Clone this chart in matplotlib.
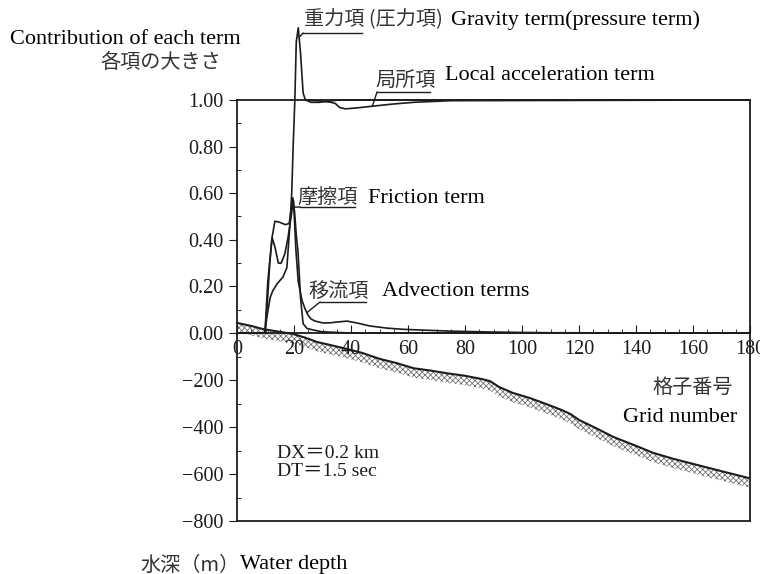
import numpy as np
import matplotlib
matplotlib.use('Agg')
import matplotlib.pyplot as plt
from matplotlib.lines import Line2D
from matplotlib.ticker import MultipleLocator

plt.rcParams['font.family'] = ['Liberation Serif', 'Noto Sans CJK JP']
plt.rcParams['hatch.linewidth'] = 0.55

# contribution of each term (normalised), by grid number
gravity_x = [0, 9.8, 10.5, 11.6, 12.5, 14, 16.1, 17.5, 17.9, 18.6, 19.2, 19.7, 20.3, 20.8, 21.5, 22.3, 23.2, 24, 26, 29, 32, 36, 45, 180]
gravity_y = [0, 0, 0.07, 0.15, 0.18, 0.21, 0.24, 0.28, 0.35, 0.47, 0.60, 0.80, 1.00, 1.25, 1.31, 1.20, 1.03, 1.0, 0.99, 0.99, 0.995, 1.0, 1.0, 1.0]

local_x = [24, 30, 33, 34.5, 36, 38, 42, 48, 55, 62, 75, 180]
local_y = [1.0, 0.995, 0.99, 0.985, 0.968, 0.962, 0.966, 0.974, 0.983, 0.99, 0.997, 1.0]

friction_x = [0, 9.8, 10.6, 11.5, 12.3, 13.3, 15, 17, 18.3, 19.0, 19.6, 20.2, 20.8, 21.4, 22.3, 23.2, 24.5, 26.7, 30, 40, 180]
friction_y = [0, 0, 0.12, 0.30, 0.41, 0.48, 0.475, 0.465, 0.47, 0.53, 0.58, 0.52, 0.42, 0.35, 0.15, 0.04, 0.02, 0.013, 0.005, 0, 0]

advection_x = [0, 9.8, 10.8, 12.3, 13.3, 14.5, 15.5, 16.8, 17.9, 19.0, 19.8, 20.3, 20.7, 21.5, 22.8, 24.0, 24.9, 26, 27.4, 30.2, 33, 35, 38.6, 42.1, 46.7, 52.6, 58, 64, 75, 90, 110, 180]
advection_y = [0, 0, 0.22, 0.41, 0.37, 0.30, 0.30, 0.34, 0.41, 0.50, 0.57, 0.45, 0.35, 0.22, 0.14, 0.10, 0.077, 0.06, 0.051, 0.043, 0.044, 0.047, 0.051, 0.043, 0.03, 0.021, 0.016, 0.013, 0.008, 0.004, 0.001, 0]

# sea bottom profile (m)
depth_x = [0, 5, 9, 15, 19.6, 24, 28, 33, 38.6, 44, 50, 56, 62, 68, 74, 80, 86.3, 88.8, 92, 96.8, 102.8, 108, 114, 117, 120, 126, 132, 141, 146, 153, 161, 170, 179.5]
depth_m = [43, 30, 17, 5, -4, -20, -38, -52, -68, -85, -110, -128, -150, -160, -172, -182, -197, -205, -230, -255, -277, -300, -328, -345, -370, -405, -442, -485, -510, -535, -560, -588, -617]

y_ticks = [0, 0.2, 0.4, 0.6, 0.8, 1.0]
depth_ticks = [-800, -600, -400, -200]
x_ticks = list(range(0, 181, 20))

INK = '#1c1c1c'
W, H = 760, 574
fig = plt.figure(figsize=(W / 100, H / 100), dpi=100)


def fx(px):
    return px / W


def fy(py):
    return 1 - py / H


ax_bot = fig.add_axes([fx(237), fy(521), (750 - 237) / W, (521 - 333) / H])
ax_top = fig.add_axes([fx(237), fy(333), (750 - 237) / W, (333 - 100) / H])
for ax in (ax_bot, ax_top):
    ax.patch.set_visible(False)
    ax.set_xlim(0, 180)
    for s in ax.spines.values():
        s.set_linewidth(1.3)
        s.set_color(INK)

# upper panel: terms
ax_top.set_ylim(0, 1)
for xs, ys in [(gravity_x, gravity_y), (local_x, local_y), (friction_x, friction_y), (advection_x, advection_y)]:
    ax_top.plot(xs, ys, color=INK, lw=1.2, clip_on=False)

ax_top.set_xticks(x_ticks)
ax_top.xaxis.set_minor_locator(MultipleLocator(5))
ax_top.tick_params(axis='x', which='both', direction='in', bottom=True, top=False, labelsize=14.5, pad=5, colors=INK)
ax_top.tick_params(axis='x', which='major', length=6)
ax_top.tick_params(axis='x', which='minor', length=3)
ax_top.set_yticks(y_ticks)
ax_top.set_yticklabels(['%.2f' % v for v in y_ticks])
ax_top.yaxis.set_minor_locator(MultipleLocator(0.1))
ax_top.tick_params(axis='y', which='major', direction='out', length=6, labelsize=14.5, pad=4, colors=INK)
ax_top.tick_params(axis='y', which='minor', direction='in', length=3)

# lower panel: depth
ax_bot.set_ylim(-800, 0)
ax_bot.spines['top'].set_visible(False)
band = np.array(depth_m) - 40
ax_bot.fill_between(depth_x, depth_m, band, facecolor='white', edgecolor='#6a6a6a', hatch='xxxxxx', linewidth=0, clip_on=False)
ax_bot.plot(depth_x, depth_m, color=INK, lw=1.5, clip_on=False)
ax_bot.set_xticks([])
ax_bot.set_yticks(depth_ticks)
ax_bot.set_yticklabels(['\u2212%d' % abs(v) for v in depth_ticks])
ax_bot.yaxis.set_minor_locator(MultipleLocator(100))
ax_bot.tick_params(axis='y', which='major', direction='out', length=6, labelsize=14.5, pad=4, colors=INK)
ax_bot.tick_params(axis='y', which='minor', direction='in', length=3)


def leader(xs, ys, xd, x1, x2, ypx):
    yd = np.interp(xd, xs, ys)
    ax_top.annotate('', xy=(xd, yd), xycoords='data', xytext=(x1, H - ypx), textcoords='figure pixels',
                    annotation_clip=False,
                    arrowprops=dict(arrowstyle='-', color=INK, lw=1.0, shrinkA=0, shrinkB=0))
    fig.add_artist(Line2D([fx(x1), fx(x2)], [fy(ypx), fy(ypx)], color=INK, lw=1.0))


leader(gravity_x, gravity_y, 21.8, 303, 362, 33)
leader(local_x, local_y, 47.5, 377, 430, 92)
leader(friction_x, friction_y, 20.0, 300, 355, 207)
leader(advection_x, advection_y, 24.5, 320, 366, 302)

JP = dict(fontsize=14.5, color='#333333', va='center', ha='left', family=['Noto Sans CJK JP', 'Liberation Serif'])
EN = dict(fontsize=16, color='black', va='center', ha='left')

fig.text(fx(10), fy(40), 'Contribution of each term', **EN)
fig.text(fx(100), fy(62), '各項の大きさ', **JP)
fig.text(fx(304), fy(20), '重力項 (圧力項)', **JP)
fig.text(fx(451), fy(20), 'Gravity term(pressure term)', **EN)
fig.text(fx(375), fy(80), '局所項', **JP)
fig.text(fx(445), fy(76), 'Local acceleration term', **EN)
fig.text(fx(297), fy(197), '摩擦項', **JP)
fig.text(fx(368), fy(198), 'Friction term', **EN)
fig.text(fx(308), fy(291), '移流項', **JP)
fig.text(fx(382), fy(292), 'Advection terms', **EN)
fig.text(fx(652), fy(387), '格子番号', **JP)
fig.text(fx(623), fy(418), 'Grid number', **EN)
fig.text(fx(277), fy(453), 'DX＝0.2 km', fontsize=14, color=INK, va='center', ha='left')
fig.text(fx(277), fy(472), 'DT＝1.5 sec', fontsize=14, color=INK, va='center', ha='left')
fig.text(fx(140), fy(565), '水深（m）', **JP)
fig.text(fx(240), fy(565), 'Water depth', **EN)

fig.savefig('out.png', dpi=100)
